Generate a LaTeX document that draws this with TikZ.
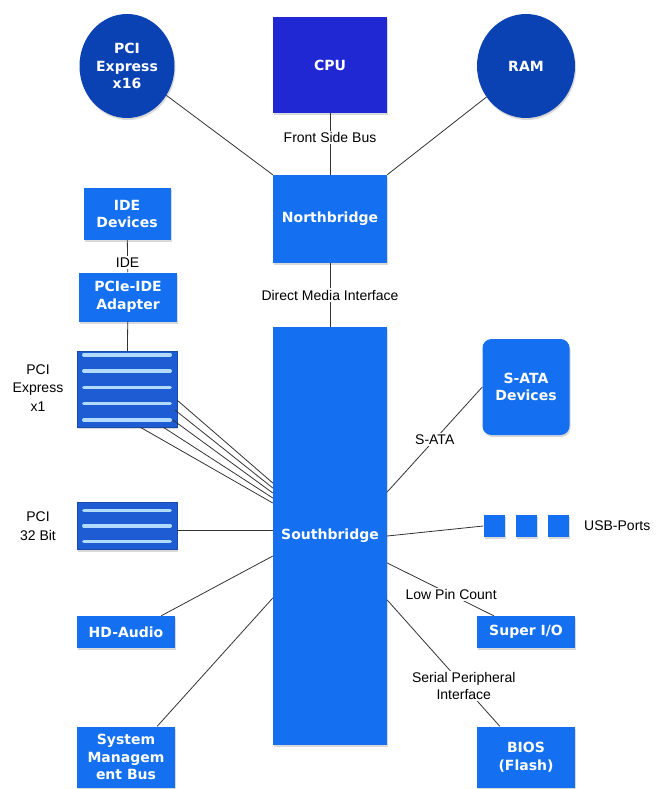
\documentclass[tikz,border=0pt]{standalone}
\usepackage{fontspec}
\setmainfont{Liberation Sans}
\newfontfamily\boxfont{DejaVu Sans}
\usetikzlibrary{shapes.geometric,shadows}

\definecolor{chipblue}{RGB}{20,112,240}
\definecolor{cpublue}{RGB}{32,40,212}
\definecolor{busblue}{RGB}{10,66,180}
\definecolor{slotblue}{RGB}{30,92,212}
\definecolor{slotline}{RGB}{178,220,255}
\definecolor{wiregray}{RGB}{50,50,50}

\begin{document}
\begin{tikzpicture}[
        x=1pt, y=-1pt,
        every node/.style={font=\fontsize{14}{18.5}\selectfont, align=center, inner sep=2pt},
        chip/.style={fill=chipblue, text=white, font=\boxfont\bfseries\fontsize{14}{17.5}\selectfont,
            drop shadow={shadow xshift=1pt, shadow yshift=-2pt, opacity=.3}, minimum width=98pt},
        bus/.style={chip, ellipse, fill=busblue, inner sep=0pt},
        slots/.style={fill=slotblue, draw=slotblue!80!black, drop shadow={shadow xshift=1pt, shadow yshift=-2pt, opacity=.3},
            minimum width=100pt},
        stripe/.style={draw=slotline, line width=3.5pt, line cap=round},
        wire/.style={draw=wiregray, line width=0.8pt},
        lbl/.style={fill=white, inner sep=1.5pt, font=\fontsize{14}{16.5}\selectfont}
    ]
    \useasboundingbox (0,0) rectangle (656,789);

    \node[bus, minimum width=95pt, minimum height=104pt] (pcie16) at (127,66) {PCI\\Express\\x16};
    \node[chip, fill=cpublue, minimum width=114pt, minimum height=96pt] (cpu) at (330,65) {CPU};
    \node[bus, minimum width=98pt, minimum height=104pt] (ram) at (526,66) {RAM};
    \node[chip, minimum width=114pt, minimum height=88pt] (nb) at (330,219) {Northbridge};
    \node[chip, minimum width=114pt, minimum height=418pt] (sb) at (330,536) {Southbridge};

    \node[chip, minimum width=87pt, minimum height=52pt] (ide) at (127,214) {IDE\\Devices};
    \node[chip, minimum height=49pt] (adapter) at (128,297) {PCIe-IDE\\Adapter};
    \node[slots, minimum height=76pt] (pcix1) at (127,389) {};
    \node[slots, minimum height=47pt] (pci32) at (127,526) {};
    \node[chip, minimum height=32pt] (audio) at (126,632) {HD-Audio};
    \node[chip, minimum height=61pt] (smbus) at (126,757) {System\\Managem\\ent Bus};

    \node[chip, rounded corners=9pt, minimum width=87pt, minimum height=96pt] (sata) at (526,387) {S-ATA\\Devices};
    \node[chip, minimum width=21pt, minimum height=22pt, inner sep=0pt] (usba) at (494,526) {};
    \node[chip, minimum width=21pt, minimum height=22pt, inner sep=0pt] (usbb) at (526,526) {};
    \node[chip, minimum width=21pt, minimum height=22pt, inner sep=0pt] (usbc) at (558,526) {};
    \node[anchor=west] (usblbl) at (582,526) {USB-Ports};
    \node[chip, minimum height=32pt] (superio) at (526,632) {Super I/O};
    \node[chip, minimum height=61pt] (bios) at (526,757) {BIOS\\(Flash)};

    \node (x1lbl) at (38,388) {PCI\\Express\\x1};
    \node (p32lbl) at (38,526) {PCI\\32 Bit};

    \foreach \k in {0,...,4}
        \draw[stripe] ([xshift=7pt, yshift={-4pt-\k*16.3pt}]pcix1.north west) -- ([xshift=-7pt, yshift={-4pt-\k*16.3pt}]pcix1.north east);
    \foreach \k in {0,...,2}
        \draw[stripe] ([xshift=7pt, yshift={-8pt-\k*15.5pt}]pci32.north west) -- ([xshift=-7pt, yshift={-8pt-\k*15.5pt}]pci32.north east);

    \draw[wire] (pcie16) -- (nb.north west);
    \draw[wire] (ram) -- (nb.north east);
    \draw[wire] (cpu) -- node[lbl, pos=0.4] {Front Side Bus} (nb);
    \draw[wire] (nb) -- node[lbl] {Direct Media Interface} (sb);
    \draw[wire] (ide) -- node[lbl, pos=0.7] {IDE} (adapter);
    \draw[wire] (adapter) -- (pcix1);
    \foreach \sx/\sy/\ey in {0/27/53, -2/17/48, -4/7/43, -14/0/38, -37/0/33}
        \draw[wire] ([xshift=\sx pt, yshift=\sy pt]pcix1.south east) -- ([yshift=\ey pt]sb.west);
    \draw[wire] ([yshift=-4pt]pci32.east) -- ([yshift=-4pt]sb.west |- pci32.east);
    \draw[wire] ([yshift=-20pt]sb.west) -- ([xshift=-14pt]audio.north east);
    \draw[wire] ([yshift=-62pt]sb.west) -- ([xshift=-18pt]smbus.north east);

    \draw[wire] ([yshift=44pt]sb.east) -- node[lbl] {S-ATA} (sata.west);
    \draw[wire] (sb.east) -- (usba.west);
    \draw[wire] ([yshift=-27pt]sb.east) -- node[lbl, pos=0.6] {Low Pin Count} ([xshift=17pt]superio.north west);
    \draw[wire] ([yshift=-64pt]sb.east) -- node[lbl, pos=0.68] {Serial Peripheral\\Interface} ([xshift=23pt]bios.north west);
\end{tikzpicture}
\end{document}
